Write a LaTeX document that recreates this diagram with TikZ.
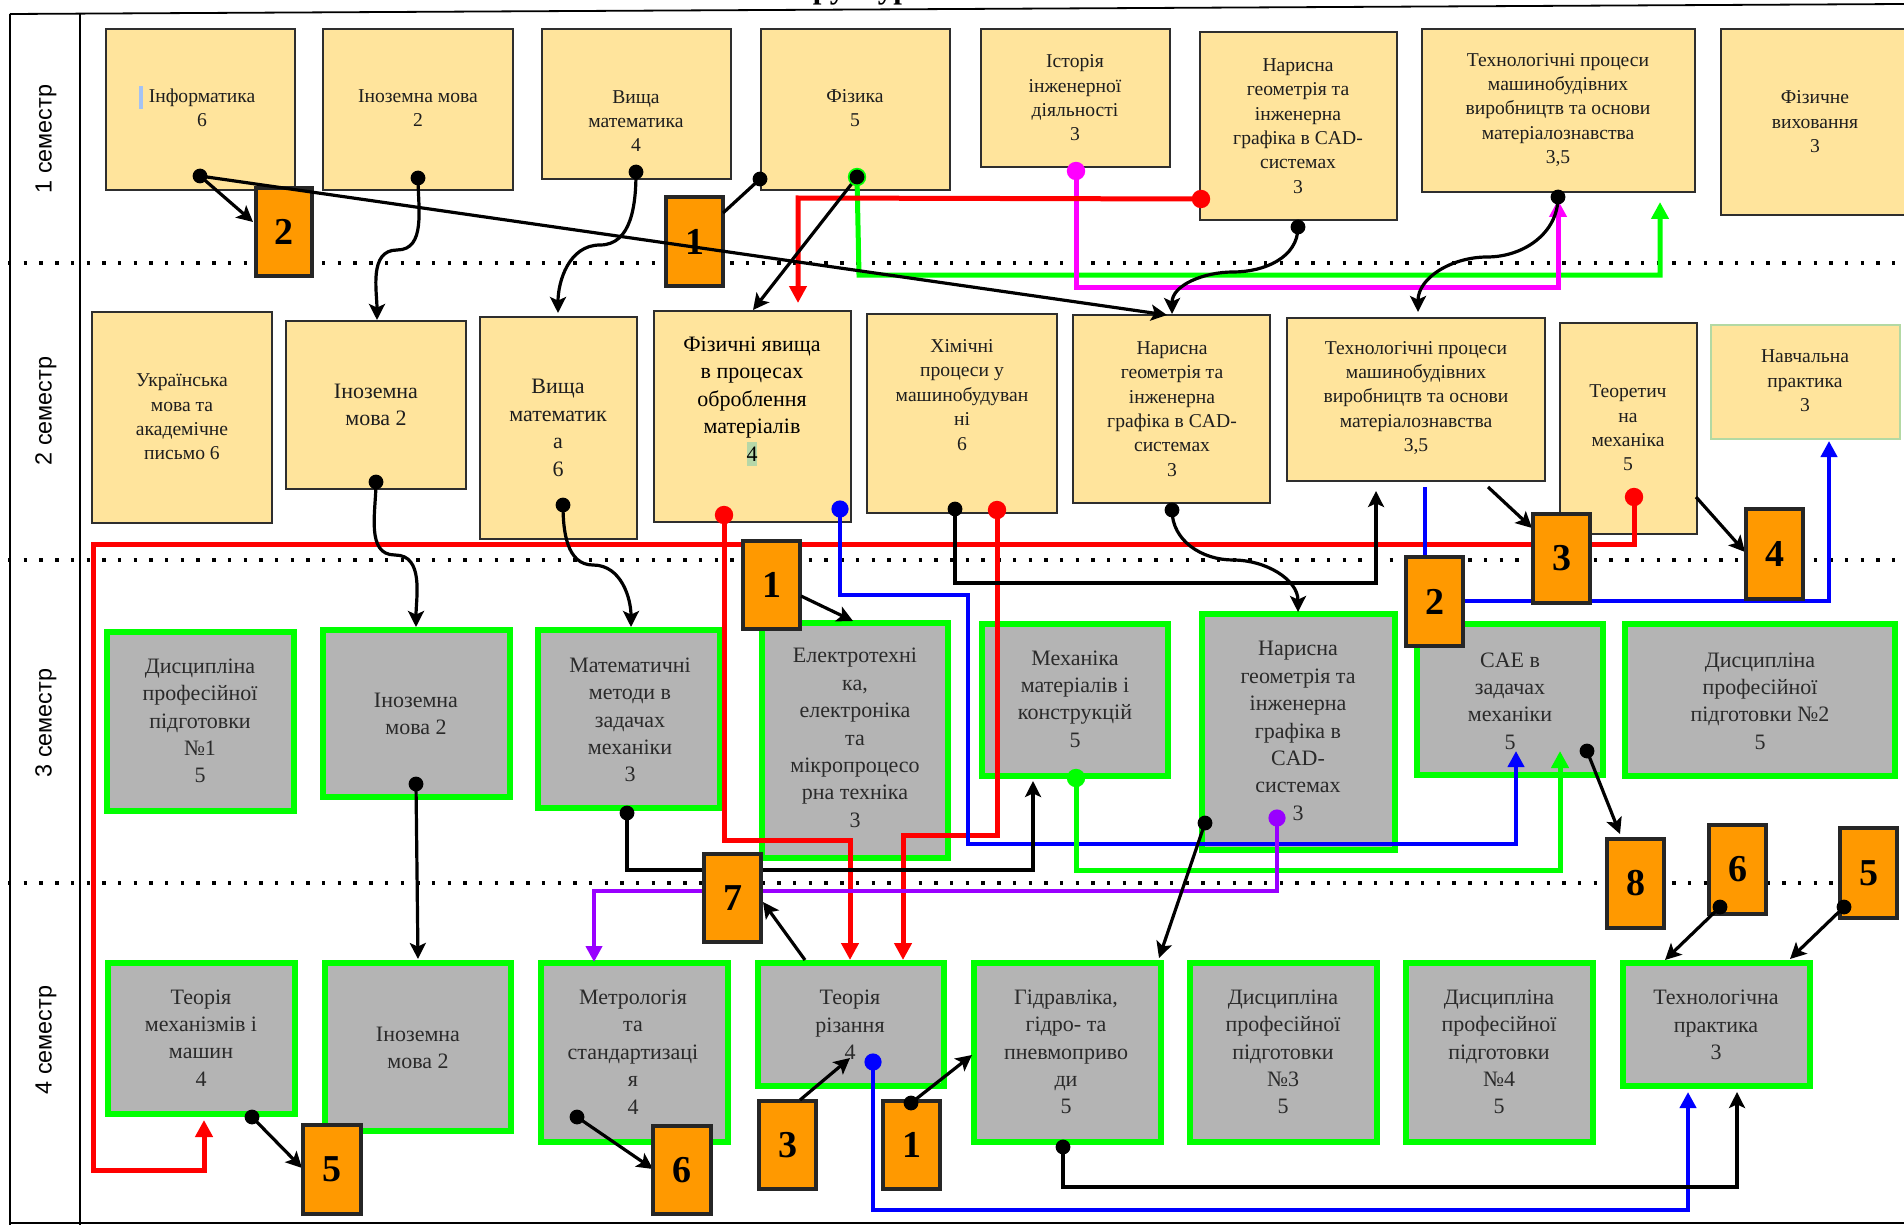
\documentclass[tikz,border=0pt]{standalone}
\usepackage{fontspec}
\setmainfont{Liberation Serif}
\newfontfamily\semfont{Liberation Sans}
\usetikzlibrary{arrows.meta}
\definecolor{yel}{HTML}{FFE49C}
\definecolor{ydraw}{HTML}{2E2E2E}
\definecolor{gry}{HTML}{B4B4B4}
\definecolor{grn}{HTML}{00FF00}
\definecolor{nav}{HTML}{B3D9A3}
\definecolor{org}{HTML}{FF9900}
\definecolor{odraw}{HTML}{262626}
\definecolor{rd}{HTML}{FF0000}
\definecolor{bl}{HTML}{0000FF}
\definecolor{mg}{HTML}{FF00FF}
\definecolor{pu}{HTML}{9900FF}
\definecolor{ytxt}{HTML}{1E1E1E}
\definecolor{gtxt}{HTML}{2A2A2A}
\definecolor{hlb}{HTML}{A4C2F4}
\definecolor{hlg}{HTML}{B6D7A8}
\newcommand{\bx}[7]{\node[#6,minimum width={(#4-#2)*0.5pt},minimum height={(#5-#3)*0.5pt}] (#1) at ({(#2+#4)/2},{(#3+#5)/2}) {#7};}
\begin{document}
\begin{tikzpicture}[x=0.5pt,y=-0.5pt,
 ybox/.style={draw=ydraw,fill=yel,line width=1.1pt,inner sep=0pt,outer sep=0pt},
 nbox/.style={draw=nav,fill=yel,line width=1.1pt,inner sep=0pt,outer sep=0pt},
 gbox/.style={draw=grn,fill=gry,line width=2.6pt,inner sep=0pt,outer sep=0pt},
 obox/.style={draw=odraw,fill=org,line width=2pt,inner sep=0pt,outer sep=0pt,font=\fontsize{19}{19}\selectfont\bfseries},
 st/.style={align=center,inner sep=0pt,text=ytxt,font=\fontsize{9.8}{12.2}\selectfont,yshift=1pt},
 lt/.style={align=center,inner sep=0pt,text=gtxt,font=\fontsize{11}{13.7}\selectfont,yshift=1pt},
 sem/.style={rotate=90,inner sep=0pt,font=\semfont\fontsize{11.7}{12}\selectfont},
 frm/.style={draw=black,line width=0.9pt},
 dotline/.style={draw=black,line width=1.7pt,dash pattern=on 1.7pt off 6.15pt},
 blk/.style={draw=black,line width=1.6pt},
 barr/.style={blk,-{Stealth[length=8pt,width=8pt,inset=1.8pt]}},
 rln/.style={draw=rd,line width=2.5pt,-{Triangle[length=8.5pt,width=8.5pt]}},
 bln/.style={draw=bl,line width=2.2pt,-{Triangle[length=8pt,width=8pt]}},
 gln/.style={draw=grn,line width=2.5pt,-{Triangle[length=8.5pt,width=8.5pt]}},
 mln/.style={draw=mg,line width=2.5pt,-{Triangle[length=8.5pt,width=8.5pt]}},
 pln/.style={draw=pu,line width=2.3pt,-{Triangle[length=8pt,width=8pt]}},
]
\useasboundingbox (0,0) rectangle (1904,1225);
\fill[white] (0,0) rectangle (1904,1225);
% title, cut by the top edge of the picture
\begin{scope}
\clip (0,0) rectangle (1904,1225);
\node[anchor=base west,inner sep=0pt,font=\bfseries\fontsize{15.5}{16}\selectfont] (title) at (775,-1.5) {Структурно-логічна схема};
\end{scope}
% frame
\draw[frm] (10,14) -- (1904,4);
\draw[frm] (10,14) -- (10,1225);
\draw[frm] (80,14) -- (80,1225);
\draw[frm] (10,1223) -- (1904,1223);
\node[sem] (s1) at (46,139) {1 семестр};
\node[sem] (s2) at (46,411) {2 семестр};
\node[sem] (s3) at (46,723) {3 семестр};
\node[sem] (s4) at (46,1040) {4 семестр};
\draw[dotline] (8,263) -- (1904,263);
\draw[dotline] (8,560) -- (1904,560);
\draw[dotline] (8,883) -- (1904,883);

% semester 1
\bx{b11}{106}{29}{295}{190}{ybox}{}
\bx{b12}{323}{29}{513}{190}{ybox}{}
\bx{b13}{542}{29}{731}{179}{ybox}{}
\bx{b14}{761}{29}{950}{190}{ybox}{}
\bx{b15}{981}{29}{1170}{167}{ybox}{}
\bx{b16}{1200}{32}{1397}{220}{ybox}{}
\bx{b17}{1422}{29}{1695}{192}{ybox}{}
\bx{b18}{1721}{29}{1906}{215}{ybox}{}
\fill[hlb] (139,86) rectangle (143,109);
\node[st] (t11) at (202,110) {Інформатика\\6};
\node[st] (t12) at (418,110) {Іноземна мова\\2};
\node[st] (t13) at (636,123) {Вища\\математика\\4};
\node[st] (t14) at (855,110) {Фізика\\5};
\node[st] (t15) at (1075,100) {Історія\\інженерної\\діяльності\\3};
\node[st] (t16) at (1298,128) {Нарисна\\геометрія та\\інженерна\\графіка в CAD-\\системах\\3};
\node[st] (t17) at (1558,112) {Технологічні процеси\\машинобудівних\\виробництв та основи\\матеріалознавства\\3,5};
\node[st] (t18) at (1815,124) {Фізичне\\виховання\\3};

% semester 2
\bx{b21}{92}{312}{272}{523}{ybox}{}
\bx{b22}{286}{321}{466}{489}{ybox}{}
\bx{b23}{480}{317}{637}{539}{ybox}{}
\bx{b24}{654}{311}{851}{522}{ybox}{}
\bx{b25}{867}{314}{1057}{513}{ybox}{}
\bx{b26}{1073}{315}{1270}{503}{ybox}{}
\bx{b27}{1287}{318}{1545}{481}{ybox}{}
\bx{b28}{1560}{323}{1697}{534}{ybox}{}
\bx{b29}{1711}{325}{1900}{439}{nbox}{}
\fill[hlg] (747,442) rectangle (757,466);
\node[st] (t21) at (182,419) {Українська\\мова та\\академічне\\письмо 6};
\node[lt,text=ytxt] (t22) at (376,407) {Іноземна\\мова 2};
\node[lt,text=ytxt] (t23) at (558,430) {Вища\\математик\\а\\6};
\node[lt,text=black] (t24) at (752,401) {Фізичні явища\\в процесах\\оброблення\\матеріалів\\4};
\node[st] (t25) at (962,397) {Хімічні\\процеси у\\машинобудуван\\ні\\6};
\node[st] (t26) at (1172,411) {Нарисна\\геометрія та\\інженерна\\графіка в CAD-\\системах\\3};
\node[st] (t27) at (1416,400) {Технологічні процеси\\машинобудівних\\виробництв та основи\\матеріалознавства\\3,5};
\node[st] (t28) at (1628,430) {Теоретич\\на\\механіка\\5};
\node[st] (t29) at (1805,383) {Навчальна\\практика\\3};

% semester 3
\bx{b31}{107}{632}{294}{811}{gbox}{}
\bx{b32}{323}{630}{510}{797}{gbox}{}
\bx{b33}{538}{630}{720}{808}{gbox}{}
\bx{b34}{762}{623}{948}{858}{gbox}{}
\bx{b35}{982}{624}{1168}{776}{gbox}{}
\bx{b36}{1202}{614}{1395}{850}{gbox}{}
\bx{b37}{1417}{624}{1603}{775}{gbox}{}
\bx{b38}{1625}{624}{1895}{776}{gbox}{}
\node[lt] (t31) at (200,723) {Дисципліна\\професійної\\підготовки\\№1\\5};
\node[lt] (t32) at (416,716) {Іноземна\\мова 2};
\node[lt] (t33) at (630,722) {Математичні\\методи в\\задачах\\механіки\\3};
\node[lt] (t34) at (855,740) {Електротехні\\ка,\\електроніка\\та\\мікропроцесо\\рна техніка\\3};
\node[lt] (t35) at (1075,701) {Механіка\\матеріалів і\\конструкцій\\5};
\node[lt] (t36) at (1298,733) {Нарисна\\геометрія та\\інженерна\\графіка в\\CAD-\\системах\\3};
\node[lt] (t37) at (1510,703) {CAE в\\задачах\\механіки\\5};
\node[lt] (t38) at (1760,703) {Дисципліна\\професійної\\підготовки №2\\5};

% semester 4
\bx{b41}{108}{963}{295}{1114}{gbox}{}
\bx{b42}{325}{963}{511}{1131}{gbox}{}
\bx{b43}{541}{963}{728}{1142}{gbox}{}
\bx{b44}{758}{963}{944}{1086}{gbox}{}
\bx{b45}{974}{963}{1161}{1142}{gbox}{}
\bx{b46}{1190}{963}{1377}{1142}{gbox}{}
\bx{b47}{1406}{963}{1593}{1142}{gbox}{}
\bx{b48}{1623}{963}{1810}{1086}{gbox}{}
\node[lt] (t41) at (201,1040) {Теорія\\механізмів і\\машин\\4};
\node[lt] (t42) at (418,1050) {Іноземна\\мова 2};
\node[lt] (t43) at (633,1054) {Метрологія\\та\\стандартизаці\\я\\4};
\node[lt] (t44) at (850,1027) {Теорія\\різання\\4};
\node[lt] (t45) at (1066,1054) {Гідравліка,\\гідро- та\\пневмоприво\\ди\\5};
\node[lt] (t46) at (1283,1054) {Дисципліна\\професійної\\підготовки\\№3\\5};
\node[lt] (t47) at (1499,1054) {Дисципліна\\професійної\\підготовки\\№4\\5};
\node[lt] (t48) at (1716,1027) {Технологічна\\практика\\3};

% dot coordinates
\coordinate (dInf) at (200,176);
\coordinate (dIno) at (418,178);
\coordinate (dVm) at (636,172);
\coordinate (dFa) at (760,179);
\coordinate (dFb) at (857,177);
\coordinate (dIst) at (1076,171);
\coordinate (dNg1r) at (1201,199);
\coordinate (dNg1) at (1298,227);
\coordinate (dTp1) at (1558,197);
\coordinate (dIno2) at (376,482);
\coordinate (dVm2) at (563,505);
\coordinate (dFyr) at (724,515);
\coordinate (dFyb) at (840,509);
\coordinate (dHk) at (955,509);
\coordinate (dHr) at (997,510);
\coordinate (dNg2) at (1172,510);
\coordinate (dTm) at (1634,497);
\coordinate (dIno3) at (416,784);
\coordinate (dMm) at (627,813);
\coordinate (dMeh) at (1076,778);
\coordinate (dNg3) at (1205,823);
\coordinate (dNg3p) at (1277,818);
\coordinate (dCae) at (1587,751);
\coordinate (dTmm) at (252,1117);
\coordinate (dMet) at (577,1117);
\coordinate (dTr) at (873,1062);
\coordinate (dGd) at (1063,1147);

% colored connectors
\draw[gln,line join=miter] (dFb) -- (859,275) -- (1660,275) -- (1660,202);
\draw[mln,line join=miter] (dIst) -- (1076,287) -- (1558,287) -- (1558,200);
\draw[rln,line join=miter] (dNg1r) -- (798,198) -- (798,303);
\draw[rln,line join=miter] (dTm) -- (1634,544) -- (93,544) -- (93,1170) -- (204,1170) -- (204,1120);
\draw[rln,line join=miter] (dFyr) -- (724,840) -- (850,840) -- (850,960);
\draw[rln,line join=miter] (dHr) -- (997,835) -- (903,835) -- (903,960);
\draw[bln,line join=miter] (dFyb) -- (840,595) -- (968,595) -- (968,844) -- (1516,844) -- (1516,751);
\coordinate (tpB) at (1425,487);
\draw[bln,line join=miter] (tpB) -- (1425,601) -- (1829,601) -- (1829,441);
\draw[gln,line join=miter] (dMeh) -- (1076,870) -- (1560,870) -- (1560,751);
\draw[pln,line join=miter] (dNg3p) -- (1277,891) -- (594,891) -- (594,962);
\draw[bln,line join=miter] (dTr) -- (873,1210) -- (1688,1210) -- (1688,1092);

% black connectors
\draw[barr] (dIno) to[out=-90,in=0] (397,250) to[out=180,in=90] (377,320);
\draw[barr] (dVm) to[out=-90,in=0] (600,245) to[out=180,in=90] (558,313);
\draw[barr] (dFb) -- (753,310);
\draw[barr] (dNg1) to[out=-90,in=0] (1233,272) to[out=180,in=90] (1172,314);
\draw[barr] (dTp1) to[out=-90,in=0] (1487,257) to[out=180,in=90] (1418,312);
\draw[barr] (dNg2) to[out=-90,in=180] (1233,560) to[out=0,in=90] (1298,612);
\draw[barr] (dIno2) to[out=-90,in=180] (395,555) to[out=0,in=90] (416,627);
\draw[barr] (dVm2) to[out=-90,in=180] (593,565) to[out=0,in=90] (631,627);
\draw[barr,line join=miter] (dHk) -- (955,583) -- (1376,583) -- (1376,491);
\draw[barr] (1488,487) -- (1532,528);
\draw[barr] (1696,497) -- (1745,552);
\draw[barr] (dIno3) -- (418,959);
\draw[barr,line join=miter] (dMm) -- (627,870) -- (1033,870) -- (1033,781);
\draw[barr] (dNg3) -- (1159,958);
\draw[barr,line join=miter] (dGd) -- (1063,1187) -- (1737,1187) -- (1737,1092);
\draw[barr] (dCae) -- (1620,834);
\draw[barr] (dTmm) -- (302,1168);
\draw[barr] (dMet) -- (653,1169);

% orange boxes
\bx{o2a}{256}{188}{312}{276}{obox}{2}
\bx{o1a}{666}{197}{723}{286}{obox}{1}
\bx{o1b}{743}{541}{800}{629}{obox}{1}
\bx{o2b}{1406}{557}{1463}{646}{obox}{2}
\bx{o3a}{1533}{514}{1590}{603}{obox}{3}
\bx{o4}{1746}{509}{1803}{599}{obox}{4}
\bx{o7}{704}{854}{761}{942}{obox}{7}
\bx{o5a}{303}{1125}{361}{1214}{obox}{5}
\bx{o6a}{653}{1126}{711}{1214}{obox}{6}
\bx{o3b}{759}{1101}{816}{1189}{obox}{3}
\bx{o1c}{883}{1101}{940}{1189}{obox}{1}
\bx{o8}{1607}{839}{1664}{928}{obox}{8}
\bx{o6b}{1709}{825}{1766}{914}{obox}{6}
\bx{o5b}{1840}{828}{1897}{918}{obox}{5}

\coordinate (dO1) at (911,1103);
\coordinate (dO6) at (1720,907);
\coordinate (dO5) at (1844,907);

% connectors over the orange boxes
\draw[barr] (dInf) -- (253,222);
\draw[barr] (dInf) -- (1167,315);
\draw[blk] (dFa) -- (723,213);
\draw[barr] (801,596) -- (853,621);
\draw[barr] (805,960) -- (763,902);
\draw[barr] (800,1100) -- (850,1058);
\draw[barr] (dO1) -- (972,1055);
\draw[barr] (dO6) -- (1665,960);
\draw[barr] (dO5) -- (1790,959);

% dots
\fill[grn] (dFb) circle (4.6pt);
\foreach \p in {dInf,dIno,dVm,dFa,dFb,dNg1,dTp1,dIno2,dVm2,dHk,dNg2,dIno3,dMm,dNg3,dCae,dTmm,dMet,dGd,dO1,dO6,dO5}
  \fill[black] (\p) circle (3.7pt);
\foreach \p in {dNg1r,dFyr,dHr,dTm} \fill[rd] (\p) circle (4.6pt);
\foreach \p in {dFyb,dTr} \fill[bl] (\p) circle (4.3pt);
\fill[mg] (dIst) circle (4.6pt);
\fill[pu] (dNg3p) circle (4.3pt);
\fill[grn] (dMeh) circle (4.6pt);
\end{tikzpicture}
\end{document}
